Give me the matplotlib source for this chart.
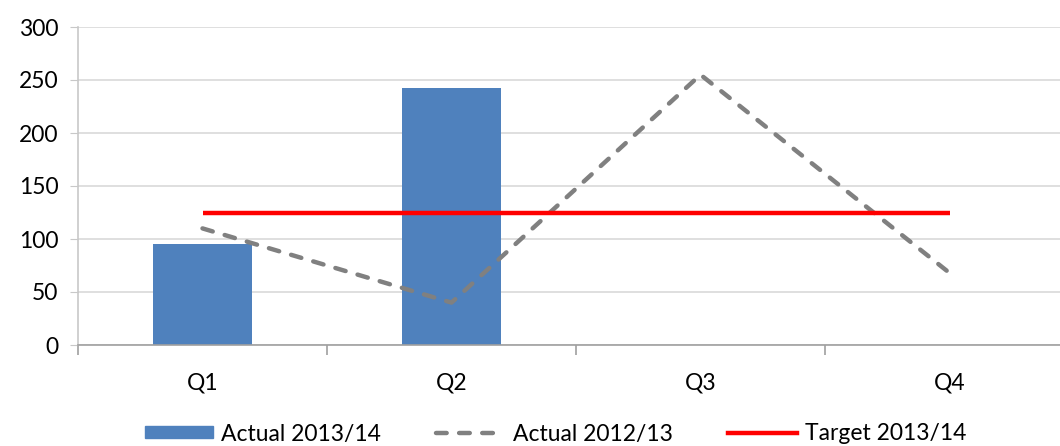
import matplotlib
matplotlib.use("Agg")
import matplotlib.pyplot as plt
from matplotlib.lines import Line2D
from matplotlib.patches import Patch

quarters = ["Q1", "Q2", "Q3", "Q4"]
actual_1314 = [95, 242, None, None]
actual_1213 = [110, 40, 255, 68]
target_1314 = [125, 125, 125, 125]

BLUE = "#4f81bd"
GREY = "#808080"
RED = "#ff0000"
plt.rcParams['font.family'] = ['Lato', 'DejaVu Sans']
FS = 16.5

fig = plt.figure(figsize=(10.6, 4.46), dpi=100)
# plot area runs slightly past the right edge, as in the reference
ax = fig.add_axes([78/1060, 1 - 345/446, 996/1060, 318/446])

x = list(range(len(quarters)))
bx = [i for i, v in zip(x, actual_1314) if v is not None]
bv = [v for v in actual_1314 if v is not None]
ax.bar(bx, bv, width=0.4, color=BLUE, zorder=2)
ax.plot(x, actual_1213, color=GREY, lw=3.2, dashes=(2.4, 2.8),
        dash_capstyle='round', zorder=3)
ax.plot(x, target_1314, color=RED, lw=3.2, solid_capstyle='butt', zorder=4)

ax.set_xlim(-0.5, 3.5)
ax.set_ylim(0, 300)
ax.set_yticks(range(0, 301, 50))
ax.yaxis.grid(True, color="#d9d9d9", lw=1.2)
ax.set_axisbelow(True)
for s in ["top", "right"]:
    ax.spines[s].set_visible(False)
ax.spines["left"].set_color("#c8c8c8")
ax.spines["bottom"].set_color("#a0a0a0")
ax.spines["left"].set_linewidth(1.2)
ax.spines["bottom"].set_linewidth(1.2)
ax.tick_params(axis='y', length=6, color="#c8c8c8", labelsize=FS, pad=8)
ax.set_xticks(x)
ax.set_xticklabels(quarters, fontsize=FS)
ax.tick_params(axis='x', length=0, pad=20)
ax.set_xticks([-0.5, 0.5, 1.5, 2.5, 3.5], minor=True)
ax.tick_params(axis='x', which='minor', length=7, color="#a0a0a0", width=1.2)

handles = [Patch(color=BLUE),
           Line2D([0], [0], color=GREY, lw=3.2, dashes=(2.4, 2.8), dash_capstyle='round'),
           Line2D([0], [0], color=RED, lw=3.2)]
labels = ["Actual 2013/14", "Actual 2012/13", "Target 2013/14"]
fig.legend(handles, labels, loc='center', bbox_to_anchor=(0.524, 1 - 434/446), ncol=3,
           frameon=False, fontsize=FS, handlelength=3.0, handleheight=0.45,
           handletextpad=0.35, columnspacing=2.4)

fig.savefig("out.png", dpi=100)
